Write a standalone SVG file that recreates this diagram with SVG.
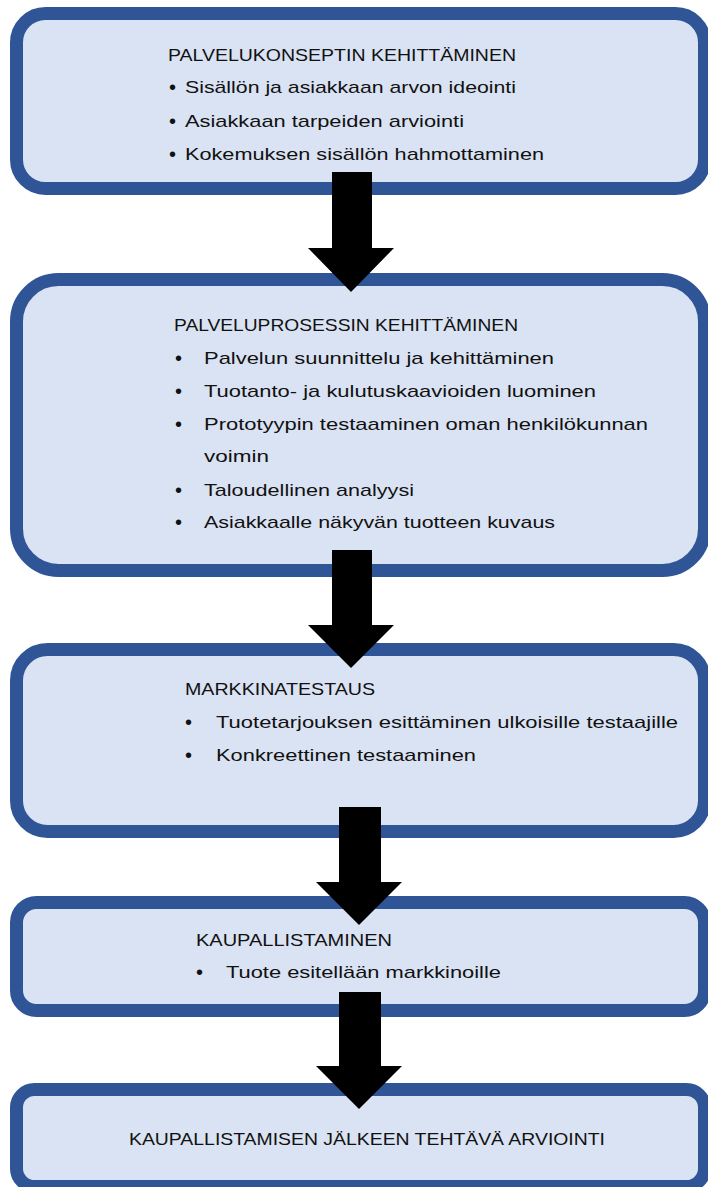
<svg xmlns="http://www.w3.org/2000/svg" width="708" height="1187" viewBox="0 0 708 1187">
<style>
.box{fill:#DAE3F3;stroke:#2F5597;stroke-width:13}
.t{font-family:"Liberation Sans","Arial",sans-serif;font-size:17px;fill:#111}
.b{font-family:"Liberation Sans","Arial",sans-serif;font-size:20px;fill:#111}
.arrow{fill:#000}
</style>
<rect width="708" height="1187" fill="#fff"/>
<g id="node1">
<rect class="box" x="16.5" y="13.5" width="688" height="175" rx="29" ry="29"/>
<text class="t" x="168" y="61" textLength="348" lengthAdjust="spacingAndGlyphs">PALVELUKONSEPTIN KEHITTÄMINEN</text>
<text class="b" x="169" y="94">•</text>
<text class="t" x="185" y="93" textLength="331" lengthAdjust="spacingAndGlyphs">Sisällön ja asiakkaan arvon ideointi</text>
<text class="b" x="169" y="128">•</text>
<text class="t" x="185" y="127" textLength="279" lengthAdjust="spacingAndGlyphs">Asiakkaan tarpeiden arviointi</text>
<text class="b" x="169" y="161">•</text>
<text class="t" x="185" y="160" textLength="359" lengthAdjust="spacingAndGlyphs">Kokemuksen sisällön hahmottaminen</text>
</g>
<g id="node2">
<rect class="box" x="16.5" y="279.5" width="688" height="291" rx="42" ry="42"/>
<text class="t" x="174" y="331" textLength="344" lengthAdjust="spacingAndGlyphs">PALVELUPROSESSIN KEHITTÄMINEN</text>
<text class="b" x="175" y="365">•</text>
<text class="t" x="204" y="364" textLength="350" lengthAdjust="spacingAndGlyphs">Palvelun suunnittelu ja kehittäminen</text>
<text class="b" x="175" y="398">•</text>
<text class="t" x="204" y="397" textLength="392" lengthAdjust="spacingAndGlyphs">Tuotanto- ja kulutuskaavioiden luominen</text>
<text class="b" x="175" y="431">•</text>
<text class="t" x="204" y="430" textLength="444" lengthAdjust="spacingAndGlyphs">Prototyypin testaaminen oman henkilökunnan</text>
<text class="t" x="204" y="462" textLength="65" lengthAdjust="spacingAndGlyphs">voimin</text>
<text class="b" x="175" y="497">•</text>
<text class="t" x="204" y="496" textLength="210" lengthAdjust="spacingAndGlyphs">Taloudellinen analyysi</text>
<text class="b" x="175" y="529">•</text>
<text class="t" x="204" y="528" textLength="351" lengthAdjust="spacingAndGlyphs">Asiakkaalle näkyvän tuotteen kuvaus</text>
</g>
<g id="node3">
<rect class="box" x="16.5" y="649.5" width="688" height="182" rx="31" ry="31"/>
<text class="t" x="185" y="695" textLength="190" lengthAdjust="spacingAndGlyphs">MARKKINATESTAUS</text>
<text class="b" x="185" y="729">•</text>
<text class="t" x="216" y="728" textLength="462" lengthAdjust="spacingAndGlyphs">Tuotetarjouksen esittäminen ulkoisille testaajille</text>
<text class="b" x="185" y="762">•</text>
<text class="t" x="216" y="761" textLength="260" lengthAdjust="spacingAndGlyphs">Konkreettinen testaaminen</text>
</g>
<g id="node4">
<rect class="box" x="16.5" y="902.5" width="688" height="108" rx="20" ry="20"/>
<text class="t" x="196" y="946" textLength="196" lengthAdjust="spacingAndGlyphs">KAUPALLISTAMINEN</text>
<text class="b" x="196" y="979">•</text>
<text class="t" x="226" y="978" textLength="275" lengthAdjust="spacingAndGlyphs">Tuote esitellään markkinoille</text>
</g>
<g id="node5">
<rect class="box" x="16.5" y="1089.5" width="688" height="97" rx="18" ry="18"/>
<text class="t" x="129" y="1145" textLength="476" lengthAdjust="spacingAndGlyphs">KAUPALLISTAMISEN JÄLKEEN TEHTÄVÄ ARVIOINTI</text>
</g>
<g id="connectors">
<polygon class="arrow" points="332,172 372,172 372,248 394,248 351,292 308,248 332,248"/>
<polygon class="arrow" points="332,550 372,550 372,625 394,625 351,668 308,625 332,625"/>
<polygon class="arrow" points="339,807 381,807 381,882 402,882 359,925 316,882 339,882"/>
<polygon class="arrow" points="339,992 381,992 381,1066 402,1066 359,1109 316,1066 339,1066"/>
</g>
</svg>
